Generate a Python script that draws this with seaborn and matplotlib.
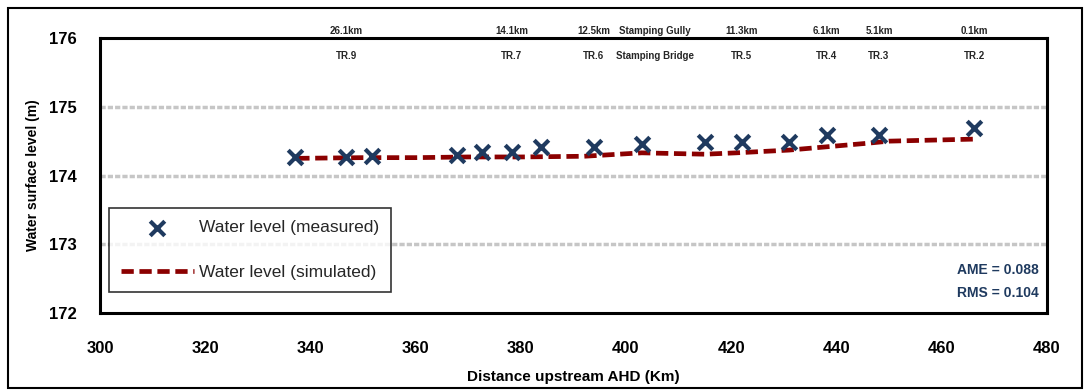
import numpy as np
import pandas as pd
import matplotlib
matplotlib.use("Agg")
import matplotlib.pyplot as plt
import seaborn as sns
from matplotlib.patches import Rectangle

## measured and simulated water levels
meas_dist = [337.1, 346.8, 351.7, 367.9, 372.6, 378.3, 383.8, 393.9,
             403.0, 415.0, 422.0, 431.0, 438.2, 448.1, 466.2]
meas_level = [174.27, 174.27, 174.28, 174.30, 174.34, 174.34, 174.41, 174.41,
              174.46, 174.49, 174.49, 174.49, 174.59, 174.59, 174.69]

sim_dist = [337.5, 350, 360, 370, 380, 392, 403, 415, 421, 431, 440, 446, 450, 466.5]
sim_level = [174.25, 174.26, 174.26, 174.27, 174.27, 174.28, 174.33, 174.31,
             174.33, 174.37, 174.43, 174.47, 174.50, 174.53]

# station labels along the top
station_x = [346.8, 378.3, 393.9, 405.5, 422.0, 438.2, 448.1, 466.2]
station_km = ["26.1km", "14.1km", "12.5km", "Stamping Gully", "11.3km", "6.1km", "5.1km", "0.1km"]
station_id = ["TR.9", "TR.7", "TR.6", "Stamping Bridge", "TR.5", "TR.4", "TR.3", "TR.2"]

xticks = list(range(300, 481, 20))
yticks = [172, 173, 174, 175, 176]

meas = pd.DataFrame({"dist": meas_dist, "level": meas_level})
sim = pd.DataFrame({"dist": sim_dist, "level": sim_level})

sns.set_style("white")
plt.rcParams['font.family'] = ['Liberation Sans', 'DejaVu Sans']

fig = plt.figure(figsize=(10.87, 3.92), dpi=100)
ax = fig.add_axes([0.092, 0.2015, 0.871, 0.7015])

for yv in [173, 174, 175]:
    ax.axhline(yv, color='#c6c6c6', lw=2.5, ls=(0, (1.5, 0.6)), zorder=0)

sns.lineplot(x='dist', y='level', data=sim, ax=ax, color='#8b0000', lw=3.4,
             label='Water level (simulated)', zorder=2)
ax.lines[-1].set_linestyle((0, (2.6, 1.2)))
sns.scatterplot(x='dist', y='level', data=meas, ax=ax, marker='x', s=110,
                linewidth=3, color='#1f3a5f', label='Water level (measured)', zorder=3)

ax.set_xlim(300, 480)
ax.set_ylim(172, 176)
ax.set_xticks(xticks)
ax.set_yticks(yticks)
ax.tick_params(axis='x', pad=13)
ax.tick_params(axis='y', pad=10)
ax.tick_params(axis='both', direction='out', length=7, width=2, labelsize=12,
               colors='black')
for lab in ax.get_xticklabels() + ax.get_yticklabels():
    lab.set_fontweight('bold')
for sp in ax.spines.values():
    sp.set_color('black')
    sp.set_linewidth(2.2)

ax.set_xlabel('Distance upstream AHD (Km)', fontsize=11, fontweight='bold',
              labelpad=10, color='black')
ax.set_ylabel('Water surface level (m)', fontsize=10, fontweight='bold',
              labelpad=6, color='black')

tr = ax.get_xaxis_transform()
for xs, km, sid in zip(station_x, station_km, station_id):
    ax.text(xs, 1.025, km, transform=tr, ha='center', va='center', fontsize=7,
            fontweight='bold', clip_on=False)
    ax.text(xs, 0.935, sid, transform=tr, ha='center', va='center', fontsize=7,
            fontweight='bold')

h, l = ax.get_legend_handles_labels()
order = [l.index('Water level (measured)'), l.index('Water level (simulated)')]
leg = ax.legend([h[i] for i in order], [l[i] for i in order], loc='lower left',
                bbox_to_anchor=(0.0, 0.045), fontsize=12.5, frameon=True,
                fancybox=False, edgecolor='black', handlelength=4.2,
                labelspacing=1.7, borderpad=0.7, handletextpad=0.3)
leg.get_frame().set_linewidth(1.2)

ax.text(0.992, 0.156, 'AME = 0.088', transform=ax.transAxes, ha='right', va='center',
        fontsize=10, fontweight='bold', color='#1f3a5f')
ax.text(0.992, 0.073, 'RMS = 0.104', transform=ax.transAxes, ha='right', va='center',
        fontsize=10, fontweight='bold', color='#1f3a5f')

fig.patches.append(Rectangle((0.007, 0.01), 0.988, 0.97, transform=fig.transFigure,
                             fill=False, edgecolor='black', lw=1.5))

plt.savefig('out.png', dpi=100)
